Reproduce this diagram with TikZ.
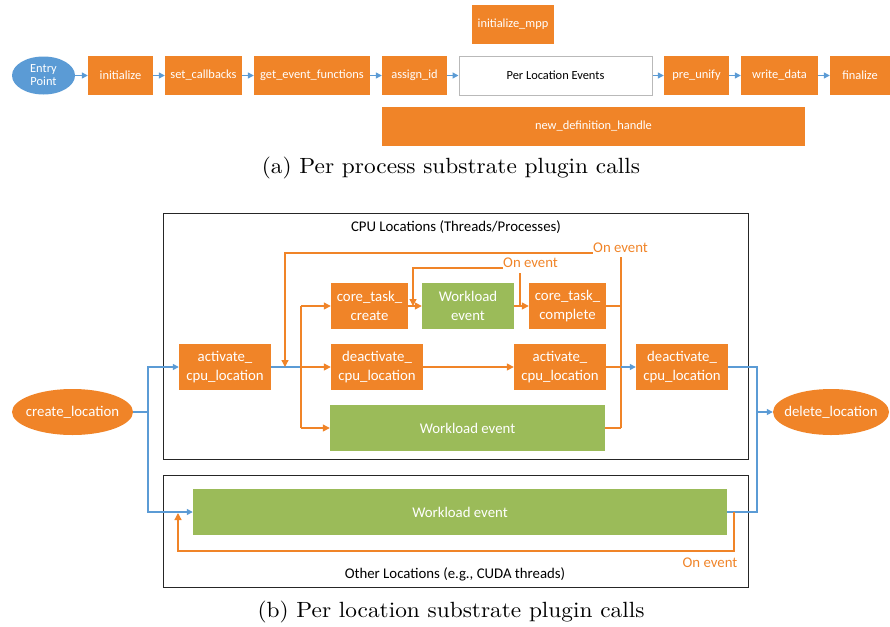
\documentclass[tikz,border=0pt]{standalone}
\usepackage{fontspec}
\usepackage{graphicx}
\newfontfamily\calib{Carlito}
\newfontfamily\capfont{lmroman10-regular.otf}
\usetikzlibrary{arrows.meta,shapes.geometric,calc}
\definecolor{orng}{RGB}{240,132,40}
\definecolor{grn}{RGB}{155,187,89}
\definecolor{blu}{RGB}{91,155,213}
\definecolor{gryb}{RGB}{185,185,185}
\begin{document}
\begin{tikzpicture}[x=1pt,y=-1pt,
  sm/.style={font=\calib\fontsize{12.4}{15}\selectfont},
  bg/.style={font=\calib\fontsize{14.8}{19}\selectfont},
  obox/.style={fill=orng,text=white,inner sep=0pt,align=center},
  gbox/.style={fill=grn,text=white,inner sep=0pt,align=center},
  oell/.style={ellipse,fill=orng,text=white,inner sep=0pt},
  boxframe/.style={draw=black!85,line width=0.9pt},
  lab/.style={bg,text=orng,inner sep=0pt},
  bline/.style={draw=blu,line width=1.3pt},
  barrow/.style={bline,-{Triangle[length=6pt,width=6pt]}},
  oline/.style={draw=orng,line width=1.3pt},
  oarrow/.style={oline,-{Triangle[length=7pt,width=7pt]}},
  captext/.style={font=\capfont\fontsize{22}{26}\selectfont,inner sep=0pt}
]
\useasboundingbox (0,0) rectangle (890,626);
% ---------- (a) ----------
\node[sm,ellipse,fill=blu,text=white,inner sep=0pt,minimum width=63pt,minimum height=38pt,align=center] (entry) at (43.5,75.5) {Entry\\[-2pt]Point};
\node[sm,obox,minimum width=65pt,minimum height=39pt] (init) at (120.5,75.5) {initialize};
\node[sm,obox,minimum width=77pt,minimum height=39pt] (setcb) at (203.5,75.5) {set\_callbacks};
\node[sm,obox,minimum width=116pt,minimum height=39pt] (getev) at (312,75.5) {get\_event\_functions};
\node[sm,obox,minimum width=65pt,minimum height=39pt] (assign) at (414.5,75.5) {assign\_id};
\node[sm,draw=gryb,line width=1pt,fill=white,text=black,inner sep=0pt,minimum width=193pt,minimum height=39pt] (perloc) at (555.5,75.5) {Per Location Events};
\node[sm,obox,minimum width=65pt,minimum height=39pt] (preunify) at (696.5,75.5) {pre\_unify};
\node[sm,obox,minimum width=77pt,minimum height=39pt] (write) at (779.5,75.5) {write\_data};
\node[sm,obox,minimum width=60pt,minimum height=39pt] (final) at (860,75.5) {finalize};
\node[sm,obox,minimum width=82pt,minimum height=39pt] (initmpp) at (513,24.5) {initialize\_mpp};
\node[sm,obox,minimum width=423pt,minimum height=39pt] (newdef) at (593.5,126.5) {new\_definition\_handle};
\draw[barrow] (entry.east) -- (init.west);
\draw[barrow] (init.east) -- (setcb.west);
\draw[barrow] (setcb.east) -- (getev.west);
\draw[barrow] (getev.east) -- (assign.west);
\draw[barrow] (assign.east) -- (perloc.west);
\draw[barrow] (perloc.east) -- (preunify.west);
\draw[barrow] (preunify.east) -- (write.west);
\draw[barrow] (write.east) -- (final.west);
\node[captext] (capa) at (451,168) {\scalebox{1.06}[1]{(a) Per process substrate plugin calls}};
% ---------- (b) ----------
\draw[boxframe] (163,213) rectangle (748,459);
\draw[boxframe] (163,475) rectangle (748,587);
\node[bg,inner sep=0pt] (cputitle) at (456,227) {CPU Locations (Threads/Processes)};
\node[bg,inner sep=0pt] (othtitle) at (455,574) {Other Locations (e.g., CUDA threads)};
\node[bg,oell,minimum width=121pt,minimum height=46pt] (create) at (72.5,412) {\makebox[30pt]{create\_location}};
\node[bg,oell,minimum width=116pt,minimum height=46pt] (delete) at (831,412) {\makebox[30pt]{delete\_location}};
\node[bg,obox,minimum width=92pt,minimum height=46pt] (act1) at (225,367) {activate\_\\cpu\_location};
\node[bg,obox,minimum width=92pt,minimum height=46pt] (deact1) at (377,367) {deactivate\_\\cpu\_location};
\node[bg,obox,minimum width=92pt,minimum height=46pt] (act2) at (560,367) {activate\_\\cpu\_location};
\node[bg,obox,minimum width=92pt,minimum height=46pt] (deact2) at (682,367) {deactivate\_\\cpu\_location};
\node[bg,obox,minimum width=77pt,minimum height=46pt] (ctc) at (369.5,306) {core\_task\_\\create};
\node[bg,gbox,minimum width=92pt,minimum height=46pt] (wl1) at (468,306) {Workload\\event};
\node[bg,obox,minimum width=77pt,minimum height=46pt] (ctcomp) at (567.5,306) {core\_task\_\\complete};
\node[bg,gbox,minimum width=275pt,minimum height=46pt] (wl2) at (467.5,428) {Workload event};
\node[bg,gbox,minimum width=534pt,minimum height=46pt] (wl3) at (460,512) {Workload event};
% blue left
\coordinate (jL) at (148,412);
\draw[bline] (create.east) -- (jL);
\draw[barrow] (jL) |- (act1.west);
\draw[barrow] (jL) |- (wl3.west);
\coordinate (sp) at (301,367);
\draw[bline] (act1.east) -- (sp);
% orange fan
\draw[oline] (sp |- ctc.west) -- (sp |- wl2.west);
\draw[oarrow] (sp |- ctc.west) -- (ctc.west);
\draw[oarrow] (sp) -- (deact1.west);
\draw[oarrow] (sp |- wl2.west) -- (wl2.west);
\draw[oarrow] (ctc.east) -- (wl1.west);
\draw[oarrow] (wl1.east) -- (ctcomp.west);
\draw[oarrow] (deact1.east) -- (act2.west);
% outer loop
\node[lab,anchor=south west] (oe1) at (593,253) {On event};
\coordinate (t1) at (285,367);
\draw[oarrow] (oe1.south west) -| (t1);
\coordinate (rv) at (621,367);
\coordinate (rvtop) at (621,257);
\draw[oline] (rvtop) -- (rv |- wl2.east);
\draw[oline] (ctcomp.east) -- (rv |- ctcomp.east);
\draw[oline] (wl2.east) -- (rv |- wl2.east);
\draw[oline] (act2.east) -- (rv);
\draw[barrow] (rv) -- (deact2.west);
% inner loop
\node[lab,anchor=south west] (oe2) at (503,268) {On event};
\coordinate (il) at (413,306);
\draw[oarrow] (oe2.south west) -| (il);
\coordinate (irtop) at (520,273);
\coordinate (ir) at (520,306);
\draw[oline] (irtop) -- (ir);
% blue right
\coordinate (jR) at (757,412);
\draw[bline] (deact2.east) -| (jR);
\draw[bline] (wl3.east) -| (jR);
\draw[barrow] (jR) -- (delete.west);
% other loop
\coordinate (ol1) at (734,512);
\coordinate (ol2) at (178,513);
\draw[oarrow] (ol1) -- ++(0,39) -| (ol2);
\node[lab] (oe3) at (710,563) {On event};
\node[captext] (capb) at (451,612) {\scalebox{1.06}[1]{(b) Per location substrate plugin calls}};
\end{tikzpicture}
\end{document}
